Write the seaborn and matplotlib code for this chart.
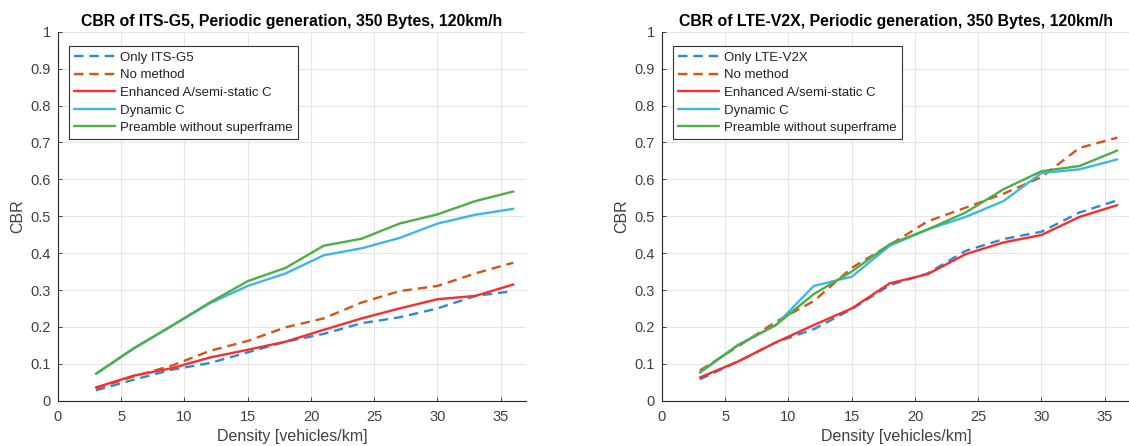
import numpy as np
import pandas as pd
import matplotlib
matplotlib.use("Agg")
import matplotlib.pyplot as plt
import seaborn as sns

density = [3, 6, 9, 12, 15, 18, 21, 24, 27, 30, 33, 36]

# ITS-G5 panel
g5_only = [0.028, 0.057, 0.084, 0.102, 0.131, 0.160, 0.181, 0.210, 0.226, 0.250, 0.284, 0.297]
g5_nomethod = [0.033, 0.066, 0.095, 0.135, 0.162, 0.199, 0.223, 0.266, 0.297, 0.311, 0.345, 0.374]
g5_enhanced = [0.036, 0.068, 0.088, 0.117, 0.138, 0.160, 0.192, 0.223, 0.250, 0.275, 0.284, 0.315]
g5_dynamic = [0.073, 0.142, 0.203, 0.264, 0.311, 0.345, 0.394, 0.413, 0.441, 0.480, 0.504, 0.520]
g5_preamble = [0.073, 0.142, 0.203, 0.266, 0.324, 0.360, 0.420, 0.439, 0.480, 0.505, 0.541, 0.567]

# LTE-V2X panel
lte_only = [0.058, 0.106, 0.158, 0.194, 0.248, 0.313, 0.345, 0.406, 0.438, 0.458, 0.510, 0.543]
lte_nomethod = [0.082, 0.147, 0.214, 0.270, 0.360, 0.422, 0.486, 0.523, 0.561, 0.606, 0.685, 0.713]
lte_enhanced = [0.063, 0.106, 0.158, 0.205, 0.250, 0.318, 0.343, 0.397, 0.429, 0.449, 0.498, 0.530]
lte_dynamic = [0.077, 0.151, 0.205, 0.311, 0.336, 0.420, 0.464, 0.498, 0.541, 0.617, 0.627, 0.654]
lte_preamble = [0.077, 0.150, 0.205, 0.289, 0.350, 0.424, 0.464, 0.510, 0.573, 0.622, 0.636, 0.678]

titles = ["CBR of ITS-G5, Periodic generation, 350 Bytes, 120km/h",
          "CBR of LTE-V2X, Periodic generation, 350 Bytes, 120km/h"]
labels_g5 = ["Only ITS-G5", "No method", "Enhanced A/semi-static C", "Dynamic C", "Preamble without superframe"]
labels_lte = ["Only LTE-V2X", "No method", "Enhanced A/semi-static C", "Dynamic C", "Preamble without superframe"]
xticks = [0, 5, 10, 15, 20, 25, 30, 35]
yticks = [0, 0.1, 0.2, 0.3, 0.4, 0.5, 0.6, 0.7, 0.8, 0.9, 1]
ytick_labels = ["0", "0.1", "0.2", "0.3", "0.4", "0.5", "0.6", "0.7", "0.8", "0.9", "1"]

colors = ["#2a8ad6", "#d95319", "#ff2b2b", "#3fb6ea", "#4caf45"]
dashed = [True, True, False, False, False]

sns.set_theme(style="white")
plt.rcParams['font.family'] = ['Liberation Sans', 'DejaVu Sans']

fig = plt.figure(figsize=(11.29, 4.46), dpi=100)
ax1 = fig.add_axes([58 / 1129, 1 - 400.7 / 446, 468 / 1129, 369 / 446])
ax2 = fig.add_axes([662 / 1129, 1 - 400.7 / 446, 468 / 1129, 369 / 446])

panels = [
    (ax1, [g5_only, g5_nomethod, g5_enhanced, g5_dynamic, g5_preamble], labels_g5, titles[0]),
    (ax2, [lte_only, lte_nomethod, lte_enhanced, lte_dynamic, lte_preamble], labels_lte, titles[1]),
]

tick_color = "#404040"
for ax, series, labels, title in panels:
    for vals, lab, col, dsh in zip(series, labels, colors, dashed):
        df = pd.DataFrame({"Density": density, "CBR": vals})
        sns.lineplot(data=df, x="Density", y="CBR", ax=ax, color=col, label=lab,
                     linewidth=1.7, linestyle=(0, (4, 2.5)) if dsh else "-")
    ax.set_xlim(0, 37)
    ax.set_ylim(0, 1)
    ax.set_xticks(xticks)
    ax.set_yticks(yticks)
    ax.set_yticklabels(ytick_labels)
    ax.grid(True, color="#e6e6e6", linewidth=0.8)
    ax.set_axisbelow(True)
    for s in ["top", "right"]:
        ax.spines[s].set_visible(False)
    for s in ["left", "bottom"]:
        ax.spines[s].set_color("#262626")
        ax.spines[s].set_linewidth(0.8)
    ax.tick_params(axis="both", direction="in", length=3, width=0.6, color="#262626",
                   labelsize=10.5, labelcolor=tick_color,
                   bottom=True, left=True)
    ax.tick_params(axis="x", pad=6.5)
    ax.tick_params(axis="y", pad=5)
    ax.set_xlabel("Density [vehicles/km]", fontsize=11.5, color=tick_color, labelpad=4)
    ax.set_ylabel("CBR", fontsize=11.5, color=tick_color, labelpad=4)
    ax.set_title(title, fontsize=11.4, fontweight="bold", color="black", pad=4)
    leg = ax.legend(loc="upper left", bbox_to_anchor=(0.023, 0.96), fontsize=9.5,
                    frameon=True, fancybox=False, framealpha=1, edgecolor="#333333",
                    handlelength=3.1, handletextpad=0.4, borderpad=0.4,
                    labelspacing=0.4, borderaxespad=0)
    leg.get_frame().set_linewidth(0.8)
    for t in leg.get_texts():
        t.set_color("#222222")

fig.savefig("out.png", dpi=100)
